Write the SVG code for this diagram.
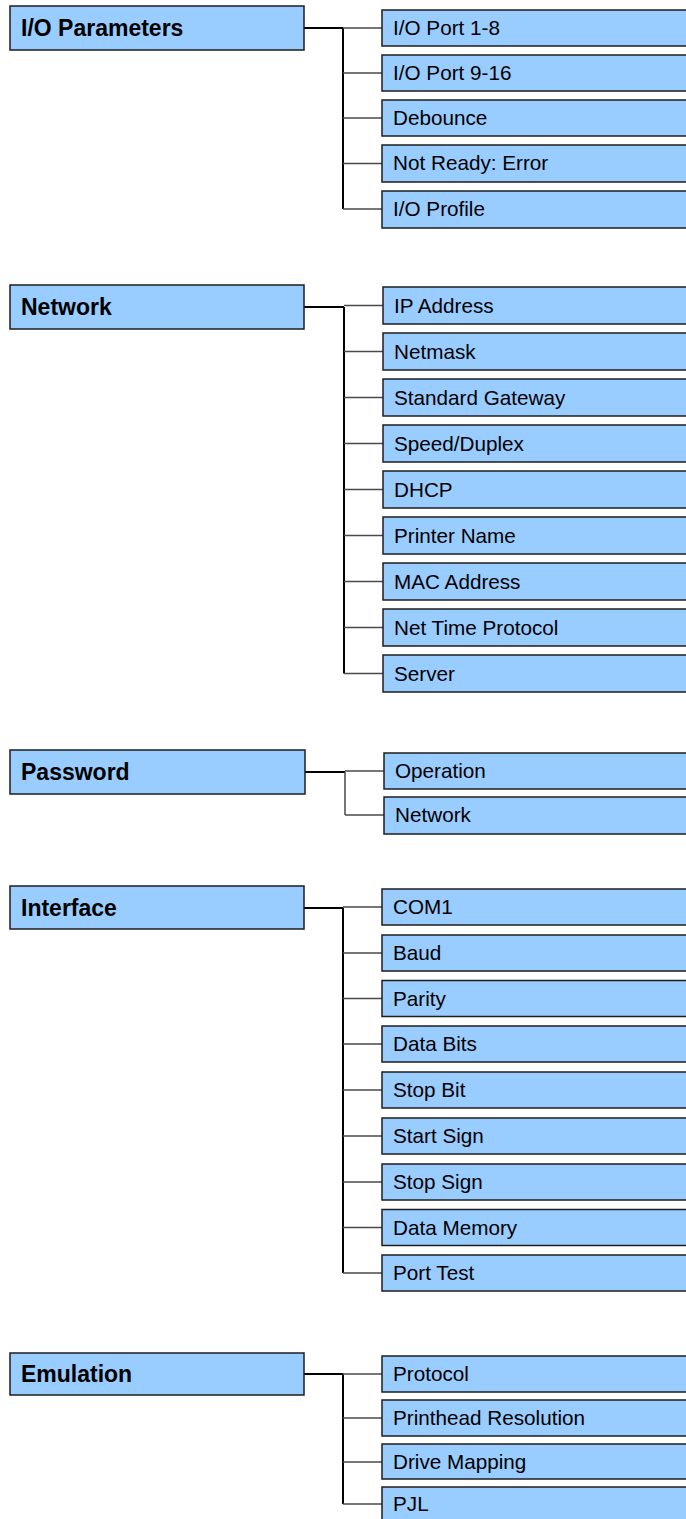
<svg xmlns="http://www.w3.org/2000/svg" width="686" height="1519" viewBox="0 0 686 1519">
<style>
.box{fill:#99ccff;stroke:#1e1e1e;stroke-width:1.5}
.pt{font-family:"Liberation Sans",Arial,sans-serif;font-weight:bold;font-size:23px;fill:#000}
.ct{font-family:"Liberation Sans",Arial,sans-serif;font-size:20.7px;fill:#000}
.main{stroke:#000;stroke-width:2;fill:none}
.br{stroke:#4a4a4a;stroke-width:1.5;fill:none}
</style>
<rect width="686" height="1519" fill="#fff"/>
<g id="connectors">
<path class="main" d="M304 28H343M343 28V209"/>
<path class="br" d="M343 28H382M343 73H382M343 118H382M343 163.5H382M343 209H382"/>
<path class="main" d="M304 307H344M344 307V673.5"/>
<path class="br" d="M344 305.5H383M344 351.5H383M344 397.5H383M344 443.5H383M344 489.5H383M344 535.5H383M344 581.5H383M344 627.5H383M344 673.5H383"/>
<path class="main" d="M305 772H345"/>
<path class="br" d="M345 772V815M345 771H384M345 815H384"/>
<path class="main" d="M304 908H343M343 908V1273"/>
<path class="br" d="M343 907H382M343 953H382M343 998.5H382M343 1044H382M343 1090H382M343 1136H382M343 1182H382M343 1227.5H382M343 1273H382"/>
<path class="main" d="M304 1374H343M343 1374V1504"/>
<path class="br" d="M343 1374H382M343 1418H382M343 1462H382M343 1504H382"/>
</g>
<g id="io-parameters"><rect class="box" x="10" y="6" width="294" height="44"/><text class="pt" x="21" y="36">I/O Parameters</text></g>
<g id="io-port-1-8"><rect class="box" x="382" y="10" width="310" height="36"/><text class="ct" x="393" y="35">I/O Port 1-8</text></g>
<g id="io-port-9-16"><rect class="box" x="382" y="55" width="310" height="36"/><text class="ct" x="393" y="80">I/O Port 9-16</text></g>
<g id="debounce"><rect class="box" x="382" y="100" width="310" height="36"/><text class="ct" x="393" y="125">Debounce</text></g>
<g id="not-ready"><rect class="box" x="382" y="145" width="310" height="37"/><text class="ct" x="393" y="170">Not Ready: Error</text></g>
<g id="io-profile"><rect class="box" x="382" y="191" width="310" height="37"/><text class="ct" x="393" y="216">I/O Profile</text></g>

<g id="network"><rect class="box" x="10" y="285" width="294" height="44"/><text class="pt" x="21" y="315">Network</text></g>
<g id="ip-address"><rect class="box" x="383" y="287" width="310" height="37"/><text class="ct" x="394" y="312.5">IP Address</text></g>
<g id="netmask"><rect class="box" x="383" y="333" width="310" height="37"/><text class="ct" x="394" y="358.5">Netmask</text></g>
<g id="standard-gateway"><rect class="box" x="383" y="379" width="310" height="37"/><text class="ct" x="394" y="404.5">Standard Gateway</text></g>
<g id="speed-duplex"><rect class="box" x="383" y="425" width="310" height="37"/><text class="ct" x="394" y="450.5">Speed/Duplex</text></g>
<g id="dhcp"><rect class="box" x="383" y="471" width="310" height="37"/><text class="ct" x="394" y="496.5">DHCP</text></g>
<g id="printer-name"><rect class="box" x="383" y="517" width="310" height="37"/><text class="ct" x="394" y="542.5">Printer Name</text></g>
<g id="mac-address"><rect class="box" x="383" y="563" width="310" height="37"/><text class="ct" x="394" y="588.5">MAC Address</text></g>
<g id="net-time-protocol"><rect class="box" x="383" y="609" width="310" height="37"/><text class="ct" x="394" y="634.5">Net Time Protocol</text></g>
<g id="server"><rect class="box" x="383" y="655" width="310" height="37"/><text class="ct" x="394" y="680.5">Server</text></g>

<g id="password"><rect class="box" x="10" y="750" width="295" height="44"/><text class="pt" x="21" y="780">Password</text></g>
<g id="operation"><rect class="box" x="384" y="753" width="310" height="36"/><text class="ct" x="395" y="778">Operation</text></g>
<g id="pw-network"><rect class="box" x="384" y="797" width="310" height="37"/><text class="ct" x="395" y="822">Network</text></g>

<g id="interface"><rect class="box" x="10" y="886" width="294" height="43"/><text class="pt" x="21" y="915.5">Interface</text></g>
<g id="com1"><rect class="box" x="382" y="889" width="310" height="36"/><text class="ct" x="393" y="914">COM1</text></g>
<g id="baud"><rect class="box" x="382" y="935" width="310" height="36"/><text class="ct" x="393" y="960">Baud</text></g>
<g id="parity"><rect class="box" x="382" y="980.5" width="310" height="36"/><text class="ct" x="393" y="1005.5">Parity</text></g>
<g id="data-bits"><rect class="box" x="382" y="1026" width="310" height="36"/><text class="ct" x="393" y="1051">Data Bits</text></g>
<g id="stop-bit"><rect class="box" x="382" y="1072" width="310" height="36"/><text class="ct" x="393" y="1097">Stop Bit</text></g>
<g id="start-sign"><rect class="box" x="382" y="1118" width="310" height="36"/><text class="ct" x="393" y="1143">Start Sign</text></g>
<g id="stop-sign"><rect class="box" x="382" y="1164" width="310" height="36"/><text class="ct" x="393" y="1189">Stop Sign</text></g>
<g id="data-memory"><rect class="box" x="382" y="1209.5" width="310" height="36"/><text class="ct" x="393" y="1234.5">Data Memory</text></g>
<g id="port-test"><rect class="box" x="382" y="1255" width="310" height="36"/><text class="ct" x="393" y="1280">Port Test</text></g>

<g id="emulation"><rect class="box" x="10" y="1353" width="294" height="42"/><text class="pt" x="21" y="1382">Emulation</text></g>
<g id="protocol"><rect class="box" x="382" y="1356" width="310" height="36"/><text class="ct" x="393" y="1381">Protocol</text></g>
<g id="printhead-resolution"><rect class="box" x="382" y="1400" width="310" height="36"/><text class="ct" x="393" y="1425">Printhead Resolution</text></g>
<g id="drive-mapping"><rect class="box" x="382" y="1444" width="310" height="35"/><text class="ct" x="393" y="1469">Drive Mapping</text></g>
<g id="pjl"><rect class="box" x="382" y="1487" width="310" height="40"/><text class="ct" x="393" y="1511">PJL</text></g>
</svg>
